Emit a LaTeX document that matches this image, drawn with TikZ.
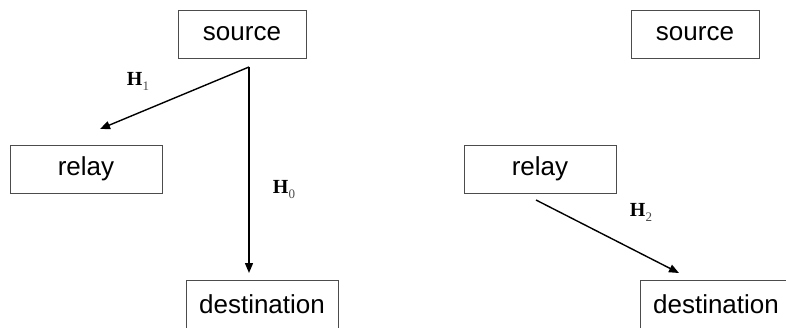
\documentclass[tikz,border=0pt]{standalone}
\usepackage{fontspec}
\setmainfont{Liberation Sans}
\newfontfamily\serifH{Liberation Serif}
\usetikzlibrary{arrows.meta}
\newcommand{\chanH}[1]{{\serifH\textbf{H}\raisebox{-5pt}{\fontsize{13}{14}\selectfont\color{black!70}#1}}}
\begin{document}
\begin{tikzpicture}[x=1pt,y=-1pt,
  box/.style={draw=black!70, line width=1pt, minimum height=48pt, inner sep=0pt, font=\fontsize{26}{28}\selectfont},
  link/.style={line width=1.4pt, -{Triangle[length=10pt,width=8pt]}},
  chan/.style={inner sep=0pt, font=\fontsize{20}{22}\selectfont}]
\useasboundingbox[fill=white] (0,0) rectangle (786,327);
% left panel
\node[box, minimum width=128pt] (srcL) at (242,34) {source};
\node[box, minimum width=152pt] (relL) at (86,169) {relay};
\node[box, minimum width=152pt] (dstL) at (262,304) {destination};
\coordinate (sL) at (249,67);
\coordinate (rL) at (100,129);
\coordinate (dL) at (249,273);
\draw[link] (sL) -- (rL);
\draw[link] (sL) -- (dL);
\node[chan] (h1) at (138,81) {\chanH{1}};
\node[chan] (h0) at (284,190) {\chanH{0}};
% right panel
\node[box, minimum width=128pt] (srcR) at (695,34) {source};
\node[box, minimum width=152pt] (relR) at (540,169) {relay};
\node[box, minimum width=152pt] (dstR) at (716,304) {destination};
\coordinate (sR) at (536,200);
\coordinate (dR) at (679,273);
\draw[link] (sR) -- (dR);
\node[chan] (h2) at (641,212) {\chanH{2}};
\end{tikzpicture}
\end{document}
